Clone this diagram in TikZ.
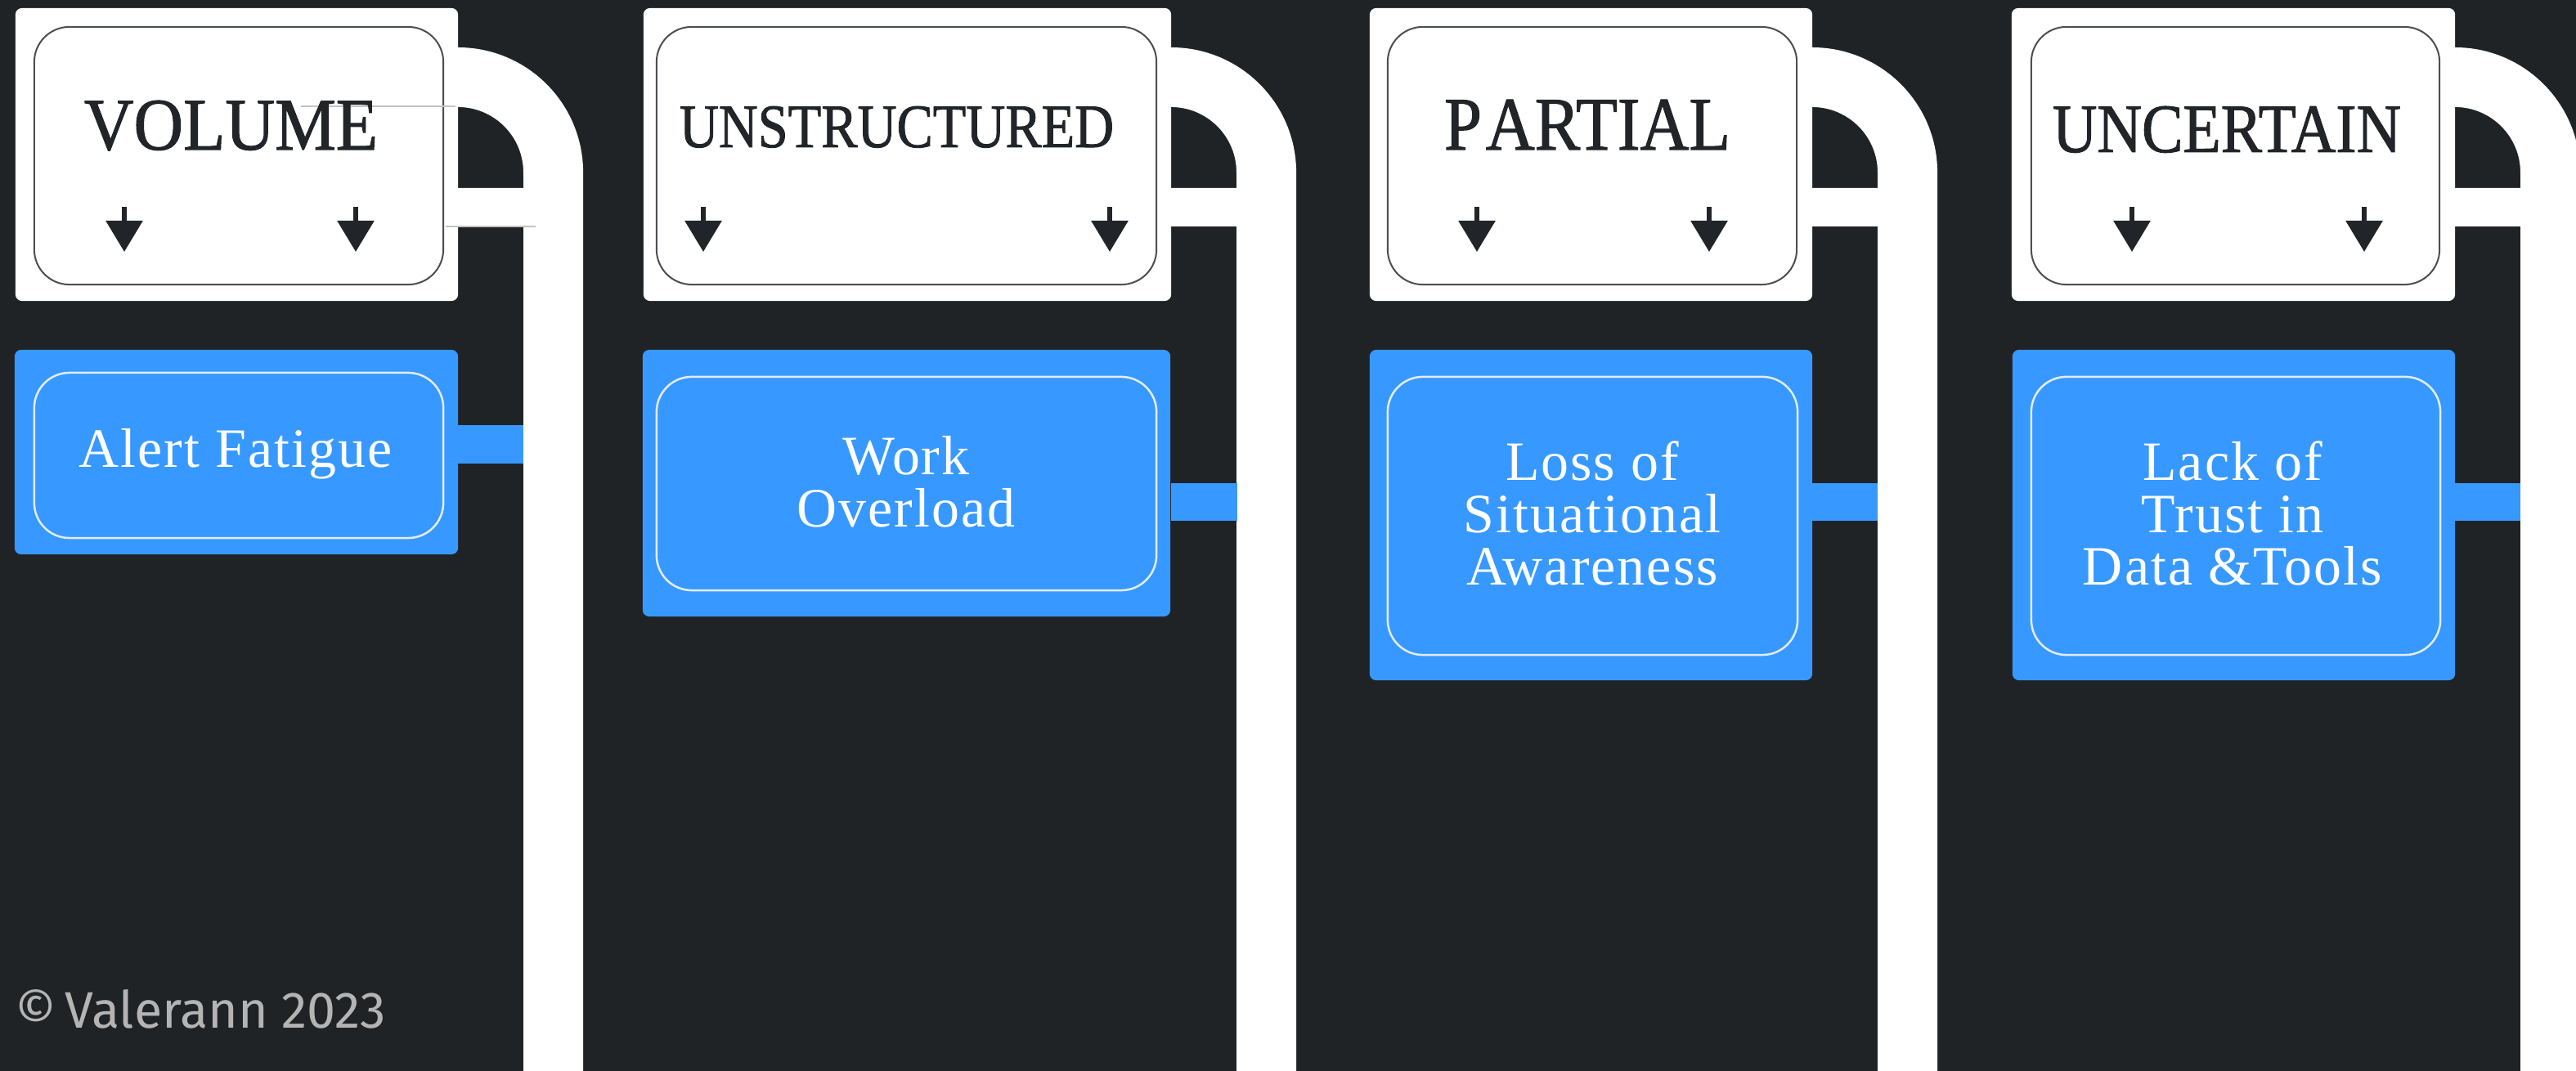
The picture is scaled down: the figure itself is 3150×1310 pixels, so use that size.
\documentclass[tikz,border=0pt]{standalone}
\usepackage{fontspec}
\setmainfont{Liberation Serif}
\newfontfamily\hdrfont[FakeBold=1.2]{Liberation Serif}
\newfontfamily\bodyfont[LetterSpace=3]{Liberation Serif}
\newfontfamily\copyfont{Fira Sans}
\usetikzlibrary{arrows.meta}
\definecolor{bg}{RGB}{32,35,38}
\definecolor{boxblue}{RGB}{55,153,255}
\definecolor{inkdark}{RGB}{33,36,40}
\definecolor{copygray}{RGB}{180,180,180}
\definecolor{ruleg}{RGB}{195,195,195}
\definecolor{frameg}{RGB}{75,78,82}
\definecolor{framel}{RGB}{228,236,246}
\tikzset{
  outerw/.style={fill=white, draw=none, rounded corners=0.08cm, inner sep=0pt},
  innerw/.style={fill=white, draw=frameg, line width=0.02cm, rounded corners=0.43cm, inner sep=0pt},
  outerb/.style={fill=boxblue, draw=none, rounded corners=0.08cm, inner sep=0pt},
  innerb/.style={fill=boxblue, draw=framel, line width=0.025cm, rounded corners=0.43cm, inner sep=0pt},
  hdr/.style={anchor=base, inner sep=0pt, text=inkdark, font=\hdrfont},
  bodytxt/.style={anchor=base, inner sep=0pt, text=white, align=center, font=\bodyfont\fontsize{19.3}{18.2}\selectfont},
  darrow/.style={draw=inkdark, line width=0.06cm, -{Triangle[width=0.44cm,length=0.38cm]}},
  archfill/.style={fill=white},
  linkbar/.style={fill=boxblue},
  strayline/.style={draw=ruleg, line width=0.02cm}
}
\begin{document}
\begin{tikzpicture}[x=0.01cm, y=-0.01cm]
\useasboundingbox (0,0) rectangle (3150,1310);
\fill[bg] (0,0) rectangle (3150,1310);

% ---------- white arches / bands ----------
\foreach \R/\W in {560/153, 1432/153, 2216/153, 3002/153}{
  \fill[archfill] (\R,58) arc[start angle=90, end angle=0, radius=1.53cm]
    -- (\R+\W,1310) -- (\R+80,1310) -- (\R+80,277) -- (\R,277) -- (\R,230)
    -- (\R+80,230) -- (\R+80,211) arc[start angle=0, end angle=90, radius=0.8cm] -- cycle;
}

% ---------- column 1 ----------
\node[outerw, minimum width=5.41cm, minimum height=3.58cm] (h1) at (289.5,189) {};
\node[innerw, minimum width=5.00cm, minimum height=3.15cm] (h1i) at (292,190.5) {};
\draw[strayline] (368,130) -- (557,130);
\draw[strayline] (545,277) -- (655,277);
\node[hdr] (t1) at (282.5,183) {\resizebox{3.59cm}{0.60cm}{VOLUME}};
\coordinate (a1s) at (152,253); \coordinate (a1e) at (152,308);
\coordinate (a2s) at (435,253); \coordinate (a2e) at (435,308);
\draw[darrow] (a1s) -- (a1e);
\draw[darrow] (a2s) -- (a2e);
\node[outerb, minimum width=5.42cm, minimum height=2.50cm] (b1) at (289,553) {};
\node[innerb, minimum width=5.00cm, minimum height=2.02cm] (b1i) at (292,557) {};
\node[bodytxt] (l1) at (288,572) {Alert Fatigue};
\fill[linkbar] (560,520) rectangle (640,567);

% ---------- column 2 ----------
\node[outerw, minimum width=6.45cm, minimum height=3.58cm] (h2) at (1109.5,189) {};
\node[innerw, minimum width=6.11cm, minimum height=3.15cm] (h2i) at (1108.5,190.5) {};
\node[hdr] (t2) at (1096.5,180) {\resizebox{5.31cm}{0.50cm}{UNSTRUCTURED}};
\coordinate (a3s) at (860,253); \coordinate (a3e) at (860,308);
\coordinate (a4s) at (1357,253); \coordinate (a4e) at (1357,308);
\draw[darrow] (a3s) -- (a3e);
\draw[darrow] (a4s) -- (a4e);
\node[outerb, minimum width=6.45cm, minimum height=3.26cm] (b2) at (1108.5,591) {};
\node[innerb, minimum width=6.11cm, minimum height=2.61cm] (b2i) at (1108.5,591.5) {};
\node[bodytxt] (l2) at (1108,645) {Work\\Overload};
\fill[linkbar] (1432,591) rectangle (1513,637);

% ---------- column 3 ----------
\node[outerw, minimum width=5.41cm, minimum height=3.58cm] (h3) at (1945.5,189) {};
\node[innerw, minimum width=5.00cm, minimum height=3.15cm] (h3i) at (1947,190.5) {};
\node[hdr] (t3) at (1941,183) {\resizebox{3.50cm}{0.61cm}{P\kern0.06em ARTIAL}};
\coordinate (a5s) at (1806,253); \coordinate (a5e) at (1806,308);
\coordinate (a6s) at (2090,253); \coordinate (a6e) at (2090,308);
\draw[darrow] (a5s) -- (a5e);
\draw[darrow] (a6s) -- (a6e);
\node[outerb, minimum width=5.41cm, minimum height=4.04cm] (b3) at (1945.5,630) {};
\node[innerb, minimum width=5.01cm, minimum height=3.40cm] (b3i) at (1947.5,631) {};
\node[bodytxt] (l3) at (1947,716) {Loss of\\Situational\\Awareness};
\fill[linkbar] (2216,591) rectangle (2296,637);

% ---------- column 4 ----------
\node[outerw, minimum width=5.42cm, minimum height=3.58cm] (h4) at (2731,189) {};
\node[innerw, minimum width=4.99cm, minimum height=3.15cm] (h4i) at (2733.5,190.5) {};
\node[hdr] (t4) at (2723,186) {\resizebox{4.26cm}{0.56cm}{UNCERTAIN}};
\coordinate (a7s) at (2607,253); \coordinate (a7e) at (2607,308);
\coordinate (a8s) at (2891,253); \coordinate (a8e) at (2891,308);
\draw[darrow] (a7s) -- (a7e);
\draw[darrow] (a8s) -- (a8e);
\node[outerb, minimum width=5.41cm, minimum height=4.04cm] (b4) at (2731.5,630) {};
\node[innerb, minimum width=5.00cm, minimum height=3.40cm] (b4i) at (2734,631) {};
\node[bodytxt] (l4) at (2730,716) {Lack of\\Trust in\\Data \&Tools};
\fill[linkbar] (3002,591) rectangle (3082,637);

% ---------- copyright ----------
\node[anchor=base west, inner sep=0pt, text=copygray, font=\copyfont] (cr) at (18,1258)
  {\resizebox{4.53cm}{!}{\copyfont ©\,Valerann 2023}};
\end{tikzpicture}
\end{document}
